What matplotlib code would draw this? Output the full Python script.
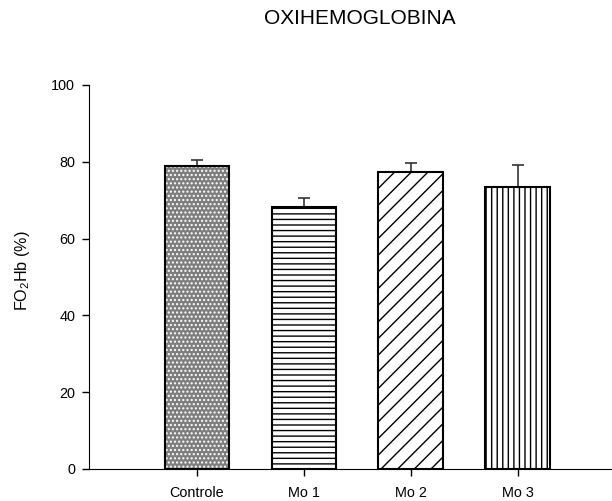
import matplotlib
matplotlib.use('Agg')
import matplotlib.pyplot as plt
import numpy as np

plt.rcParams['font.family'] = 'Liberation Sans'
plt.rcParams['mathtext.fontset'] = 'custom'
plt.rcParams['mathtext.rm'] = 'Liberation Sans'
plt.rcParams['mathtext.it'] = 'Liberation Sans'
plt.rcParams['hatch.linewidth'] = 1.0

# data
groups = ['Controle', 'Mo 1', 'Mo 2', 'Mo 3']
means = [78.9, 68.3, 77.4, 73.4]
errs = [1.6, 2.3, 2.4, 5.8]
hatches = ['....', '---', '//', '|||']
faces = ['#7e7e7e', 'white', 'white', 'white']
hatch_colors = ['white', 'black', 'black', 'black']

fig = plt.figure(figsize=(6.12, 5.01), dpi=100)
ax = fig.add_axes([89/612, 1 - 469/501, 1 - 89/612, (469 - 85)/501])

x = np.arange(len(groups))
w = 0.607
for i in range(len(groups)):
    # fill + hatch, then the black outline on top
    ax.bar(x[i], means[i], width=w, color=faces[i], edgecolor=hatch_colors[i],
           linewidth=0, hatch=hatches[i], zorder=2)
    ax.bar(x[i], means[i], width=w, color='none', edgecolor='black',
           linewidth=1.5, zorder=3)
ax.errorbar(x, means, yerr=[np.zeros(len(errs)), errs], fmt='none',
            ecolor='#333333', elinewidth=1.2, capsize=4, capthick=1.2, zorder=1)

ax.set_xlim(-1.01, 3.88)
ax.set_ylim(0, 100)
ax.set_yticks([0, 20, 40, 60, 80, 100])
ax.set_xticks(x)
ax.set_xticklabels(groups)
ax.spines['top'].set_visible(False)
ax.spines['right'].set_visible(False)
ax.tick_params(axis='both', labelsize=10.4, length=5, width=1)
ax.tick_params(axis='x', pad=7)
ax.tick_params(axis='y', pad=5)
ax.set_ylabel(r'FO$_2$Hb (%)', fontsize=11.6)
ax.yaxis.set_label_coords(-0.109, 0.516)

fig.text(360/612, 1 - 18/501, 'OXIHEMOGLOBINA', ha='center', va='center', fontsize=15)

fig.savefig('out.png', dpi=100)
